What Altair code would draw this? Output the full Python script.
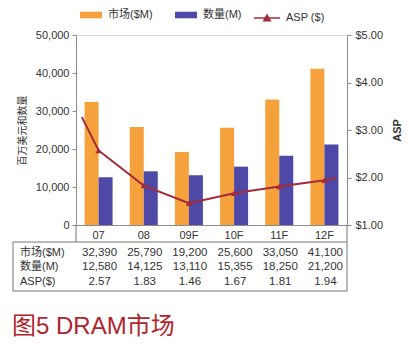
import altair as alt
import pandas as pd

# ---- data ----
years = ["07", "08", "09F", "10F", "11F", "12F"]
market = [32390, 25790, 19200, 25600, 33050, 41100]
units = [12580, 14125, 13110, 15355, 18250, 21200]
asp = [2.57, 1.83, 1.46, 1.67, 1.81, 1.94]
# the ASP line runs a little past the first and last year (category index, value)
asp_start = (-0.37, 3.27)
asp_end = (5.27, 1.99)

series_names = ["市场($M)", "数量(M)"]
line_name = "ASP ($)"
row_labels = ["市场($M)", "数量(M)", "ASP($)"]
caption = "图5 DRAM市场"
left_ticks = [0, 10000, 20000, 30000, 40000, 50000]
right_ticks = [1, 2, 3, 4, 5]

ORANGE = "#F5A23C"
BLUE = "#4E49A6"
RED = "#A42A3C"
AXIS = "#8C8C8C"
TXT = "#333333"
FONT = "Liberation Sans, Noto Sans CJK SC"

W, H = 271, 190

# ---- tables ----
bar_df = pd.DataFrame({
    "year": years * 2,
    "series": [series_names[0]] * len(years) + [series_names[1]] * len(years),
    "value": market + units,
})
table_df = pd.DataFrame({"year": years, "market": market, "units": units, "asp": asp})
line_df = pd.DataFrame({
    "idx": [asp_start[0]] + list(range(len(years))) + [asp_end[0]],
    "asp": [asp_start[1]] + asp + [asp_end[1]],
    "s": [line_name] * (len(years) + 2),
})
pt_df = pd.DataFrame({"idx": list(range(len(years))), "asp": asp, "s": [line_name] * len(years)})
one = pd.DataFrame({"k": [0]})

x_enc = alt.X(
    "year:N", sort=years,
    scale=alt.Scale(paddingInner=0.38, paddingOuter=0.19),
    axis=alt.Axis(title=None, labelAngle=0, ticks=False, domainColor=AXIS,
                  labelFontSize=11, labelColor=TXT, labelPadding=4, labelFont=FONT),
)

bars = alt.Chart(bar_df).mark_bar().encode(
    x=x_enc,
    xOffset=alt.XOffset("series:N", sort=series_names,
                        scale=alt.Scale(paddingInner=0, paddingOuter=0)),
    y=alt.Y("value:Q", scale=alt.Scale(domain=[0, 50000], nice=False),
            axis=alt.Axis(values=left_ticks, format=",d", title="百万美元和数量",
                          grid=False, domainColor=AXIS, tickColor=AXIS, tickSize=4,
                          labelFontSize=11, labelColor=TXT, labelPadding=3,
                          titleFontSize=10, titleFontWeight="normal", titleColor=TXT,
                          titlePadding=8, labelFont=FONT, titleFont=FONT)),
    color=alt.Color("series:N", sort=series_names,
                    scale=alt.Scale(domain=series_names, range=[ORANGE, BLUE]),
                    legend=alt.Legend(title=None, orient="none", legendX=4, legendY=-31,
                                      direction="horizontal", padding=0,
                                      symbolType="M-1,-0.3H1V0.3H-1Z", symbolSize=484,
                                      symbolStrokeWidth=0, labelFontSize=11,
                                      labelColor=TXT, labelOffset=6, columnPadding=22,
                                      labelFont=FONT)),
)

row_layers = []
row_fields = [("market", ",d"), ("units", ",d"), ("asp", ".2f")]
row_y = [218, 232, 247]
for (field, fmt), yy in zip(row_fields, row_y):
    row_layers.append(
        alt.Chart(table_df).mark_text(fontSize=11.5, color=TXT, baseline="middle",
                                      font=FONT, dx=1).encode(
            x=x_enc, y=alt.value(yy), text=alt.Text(f"{field}:Q", format=fmt))
    )

label_df = pd.DataFrame({"label": row_labels, "y": row_y})
row_label_layer = alt.Chart(label_df).mark_text(
    fontSize=11, color=TXT, align="left", baseline="middle", font=FONT
).encode(x=alt.value(-56), y=alt.Y("y:Q", scale=None), text="label:N")

box = alt.Chart(one).mark_rect(filled=False, stroke="#777", strokeWidth=1).encode(
    x=alt.value(-63), x2=alt.value(W), y=alt.value(207), y2=alt.value(256))
rule_l = alt.Chart(one).mark_rule(color="#777").encode(
    x=alt.value(0), y=alt.value(H), y2=alt.value(207))
rule_r = alt.Chart(one).mark_rule(color="#777").encode(
    x=alt.value(W), y=alt.value(H), y2=alt.value(207))

cap_df = pd.DataFrame({"t": [caption]})
cap = alt.Chart(cap_df).mark_text(
    fontSize=24, color="#B0242E", align="left", baseline="middle", font=FONT
).encode(x=alt.value(-64), y=alt.value(292), text="t:N")

left_group = alt.layer(bars, *row_layers, row_label_layer, box, rule_l, rule_r, cap)

x_line = alt.X("idx:Q", scale=alt.Scale(domain=[-0.5, 5.5], nice=False, zero=False), axis=None)
y_line = alt.Y("asp:Q", scale=alt.Scale(domain=[1, 5], nice=False, zero=False),
               axis=alt.Axis(orient="right", values=right_ticks, format="$.2f", title="ASP",
                             grid=False, domainColor=AXIS, tickColor=AXIS, tickSize=4,
                             labelFontSize=11, labelColor=TXT, labelPadding=4,
                             titleFontSize=11, titleFontWeight="bold", titleColor=TXT,
                             titleAngle=270, titlePadding=20, labelFont=FONT, titleFont=FONT))

line = alt.Chart(line_df).mark_line(strokeWidth=2).encode(
    x=x_line, y=y_line,
    stroke=alt.Stroke("s:N", scale=alt.Scale(domain=[line_name], range=[RED]),
                      legend=alt.Legend(title=None, orient="none", legendX=177, legendY=-31,
                                        padding=0,
                                        symbolType="M-1,0H1M-0.25,0.22L0,-0.22L0.25,0.22Z",
                                        symbolSize=676, symbolStrokeWidth=1.5,
                                        symbolFillColor=RED, labelFontSize=11,
                                        labelColor=TXT, labelOffset=5, labelFont=FONT)),
)
points = alt.Chart(pt_df).mark_point(shape="triangle-up", filled=True, size=40,
                                     color=RED, opacity=1).encode(x=x_line, y=y_line)

right_group = alt.layer(line, points)

chart = alt.layer(left_group, right_group).resolve_scale(
    x="independent", y="independent"
).properties(
    width=W, height=H,
    autosize=alt.AutoSizeParams(type="none"),
    padding={"left": 76, "top": 35, "right": 62, "bottom": 127},
).configure_view(stroke=None).configure(font=FONT, background="white")

chart.save("out.html", embed_options={"renderer": "svg", "actions": False})
